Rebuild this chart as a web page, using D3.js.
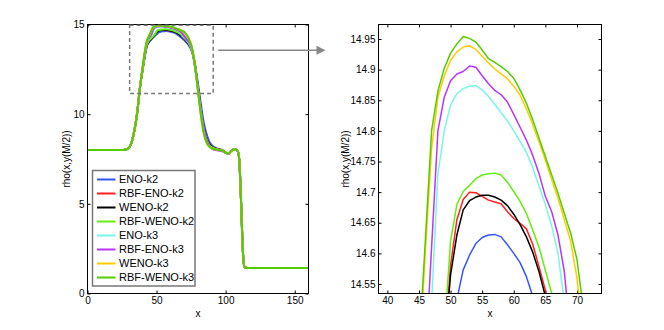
<!DOCTYPE html>
<meta charset="utf-8">
<style>
    body { margin: 0; background: #fff; }
    text { font-family: "Liberation Sans", Arial, Helvetica, sans-serif; fill: #000; }
    .tick text { font-size: 10px; }
    .tick line { stroke: #000; }
    .frame { fill: none; stroke: #000; stroke-width: 1px; }
    .alabel { font-size: 10px; }
    .legend text { font-size: 11px; }
</style>
<body>
<script src="https://d3js.org/d3.v7.min.js"></script>
<script>
    // ---- data ----
    var names = ["ENO-k2", "RBF-ENO-k2", "WENO-k2", "RBF-WENO-k2",
                 "ENO-k3", "RBF-ENO-k3", "WENO-k3", "RBF-WENO-k3"];
    var colors = ["#3355ff", "#ff2020", "#000000", "#66ee11",
                  "#77f7e8", "#bb33ff", "#ffcc00", "#55cc00"];

    // shared left part (all schemes coincide)
    var xRise = [0, 26, 28, 30, 32, 34, 36, 38];
    var rhoRise = [8, 8, 8.03, 8.12, 8.45, 9.1, 10.1, 11.5];

    // region where the schemes differ
    var xCore = [40, 42, 43, 44, 45, 46, 47, 48, 49, 50, 51, 52, 53, 54, 55, 56, 57, 58, 59, 60,
                 61, 62, 63, 64, 65, 66, 67, 68, 69, 70, 71, 72, 74, 76, 78, 80, 82, 84, 86, 88, 90, 94, 98];
    var eno2 = [12.5, 13.45, 13.8, 13.97, 14.08, 14.16, 14.24, 14.32, 14.39, 14.45, 14.525, 14.573, 14.597, 14.616, 14.626, 14.63, 14.631, 14.627, 14.614, 14.6,
                14.585, 14.562, 14.53, 14.49, 14.44, 14.39, 14.33, 14.27, 14.2, 14.13, 14.05, 13.97, 13.75, 13.4, 12.7, 11.7, 10.6, 9.6, 8.95, 8.5, 8.27, 8.08, 7.98];
    var rbfEno2 = [12.55, 13.5, 13.85, 14.02, 14.12, 14.2, 14.28, 14.36, 14.45, 14.58, 14.655, 14.688, 14.7, 14.699, 14.693, 14.687, 14.684, 14.681, 14.668, 14.657,
                   14.649, 14.64, 14.615, 14.578, 14.54, 14.49, 14.43, 14.37, 14.3, 14.22, 14.14, 14.06, 13.85, 13.45, 12.6, 11.45, 10.3, 9.3, 8.7, 8.35, 8.18, 8.05, 7.97];
    var weno2 = [12.55, 13.5, 13.84, 14.0, 14.1, 14.18, 14.26, 14.34, 14.44, 14.565, 14.63, 14.671, 14.686, 14.692, 14.695, 14.695, 14.692, 14.687, 14.678, 14.664,
                 14.647, 14.627, 14.602, 14.57, 14.53, 14.48, 14.42, 14.36, 14.29, 14.21, 14.13, 14.05, 13.84, 13.45, 12.6, 11.45, 10.3, 9.3, 8.7, 8.35, 8.18, 8.05, 7.97];
    var rbfWeno2 = [12.57, 13.53, 13.88, 14.05, 14.15, 14.22, 14.3, 14.38, 14.47, 14.62, 14.68, 14.701, 14.711, 14.722, 14.728, 14.73, 14.731, 14.728, 14.716, 14.701,
                    14.685, 14.665, 14.638, 14.61, 14.572, 14.535, 14.48, 14.41, 14.33, 14.25, 14.17, 14.09, 13.87, 13.47, 12.6, 11.4, 10.25, 9.25, 8.65, 8.3, 8.15, 8.04, 7.96];
    var eno3 = [12.6, 13.6, 13.95, 14.12, 14.25, 14.38, 14.52, 14.73, 14.8, 14.842, 14.861, 14.869, 14.873, 14.874, 14.867, 14.856, 14.843, 14.83, 14.816, 14.8,
                14.783, 14.765, 14.74, 14.71, 14.68, 14.645, 14.6, 14.52, 14.42, 14.32, 14.22, 14.12, 13.9, 13.45, 12.55, 11.35, 10.15, 9.15, 8.55, 8.25, 8.12, 8.02, 7.95];
    var rbfEno3 = [12.62, 13.65, 14.0, 14.18, 14.3, 14.42, 14.61, 14.8, 14.855, 14.882, 14.893, 14.897, 14.906, 14.904, 14.89, 14.877, 14.866, 14.859, 14.847, 14.827,
                   14.806, 14.785, 14.76, 14.73, 14.693, 14.668, 14.63, 14.57, 14.46, 14.36, 14.26, 14.16, 13.95, 13.5, 12.6, 11.4, 10.2, 9.2, 8.6, 8.25, 8.08, 7.98, 7.92];
    var weno3 = [12.65, 13.7, 14.07, 14.27, 14.42, 14.6, 14.77, 14.855, 14.89, 14.915, 14.929, 14.937, 14.939, 14.933, 14.922, 14.911, 14.901, 14.893, 14.885, 14.873,
                 14.858, 14.836, 14.81, 14.782, 14.752, 14.72, 14.69, 14.655, 14.62, 14.56, 14.46, 14.36, 14.08, 13.58, 12.6, 11.3, 10.0, 9.0, 8.45, 8.2, 8.1, 8.02, 7.95];
    var rbfWeno3 = [12.67, 13.73, 14.1, 14.29, 14.44, 14.62, 14.8, 14.865, 14.902, 14.927, 14.942, 14.954, 14.951, 14.945, 14.932, 14.918, 14.912, 14.905, 14.897, 14.886,
                    14.867, 14.845, 14.818, 14.788, 14.758, 14.728, 14.698, 14.665, 14.633, 14.59, 14.51, 14.4, 14.1, 13.6, 12.6, 11.3, 10.0, 9.0, 8.45, 8.2, 8.1, 8.02, 7.95];

    // shared right part
    var xTail = [100, 102, 104, 106, 107, 108, 109, 110, 111, 112, 113, 114, 116, 160];
    var rhoTail = [7.85, 7.8, 7.95, 8.05, 8.05, 7.98, 7.9, 7.3, 5.5, 3.3, 1.75, 1.45, 1.42, 1.42];

    var cores = [eno2, rbfEno2, weno2, rbfWeno2, eno3, rbfEno3, weno3, rbfWeno3];

    var leftXTicks = [0, 50, 100, 150];
    var leftYTicks = [0, 5, 10, 15];
    var rightXTicks = [40, 45, 50, 55, 60, 65, 70];
    var rightYTicks = [14.55, 14.6, 14.65, 14.7, 14.75, 14.8, 14.85, 14.9, 14.95];

    // zoom window drawn on the left axes (data units)
    var zoomBox = { x0: 30.5, x1: 91, y0: 11.15, y1: 14.96 };
    var arrowY = 13.57;

    var xs = xRise.concat(xCore, xTail);
    var series = cores.map(function (c, i) {
        var ys = rhoRise.concat(c, rhoTail);
        return { name: names[i], color: colors[i], values: xs.map(function (x, j) { return [x, ys[j]]; }) };
    });

    // ---- layout ----
    var W = 664, H = 330;
    var svg = d3.select("body").append("svg")
        .attr("width", W).attr("height", H);

    var xL = d3.scaleLinear().domain([0, 160]).range([87.5, 308.5]);
    var yL = d3.scaleLinear().domain([0, 15]).range([293.5, 24.5]);
    var xR = d3.scaleLinear().domain([38.6, 73.88]).range([378.5, 601.5]);
    var yR = d3.scaleLinear().domain([14.5345, 14.9737]).range([293.5, 24.5]);

    function drawAxes(g, x, y, xt, yt, id, labelOff) {
        var x0 = x.range()[0], x1 = x.range()[1], y0 = y.range()[0], y1 = y.range()[1];

        g.append("clipPath").attr("id", id)
            .append("rect").attr("x", x0).attr("y", y1).attr("width", x1 - x0).attr("height", y0 - y1);

        g.append("g").attr("transform", "translate(0," + y0 + ")")
            .call(d3.axisBottom(x).tickValues(xt).tickSize(-3).tickPadding(3.5).tickFormat(d3.format("")))
            .call(function (a) { a.select(".domain").remove(); });
        g.append("g").attr("transform", "translate(0," + y1 + ")")
            .call(d3.axisTop(x).tickValues(xt).tickSize(-3).tickFormat(""))
            .call(function (a) { a.select(".domain").remove(); });
        g.append("g").attr("transform", "translate(" + x0 + ",0)")
            .call(d3.axisLeft(y).tickValues(yt).tickSize(-3).tickPadding(3).tickFormat(d3.format("")))
            .call(function (a) { a.select(".domain").remove(); });
        g.append("g").attr("transform", "translate(" + x1 + ",0)")
            .call(d3.axisRight(y).tickValues(yt).tickSize(-3).tickFormat(""))
            .call(function (a) { a.select(".domain").remove(); });

        g.selectAll(".tick text").attr("font-family", null).attr("font-size", null);

        g.append("text").attr("class", "alabel")
            .attr("x", (x0 + x1) / 2).attr("y", 316.5)
            .attr("text-anchor", "middle").text("x");
        g.append("text").attr("class", "alabel")
            .attr("transform", "translate(" + (x0 - labelOff) + "," + ((y0 + y1) / 2) + ") rotate(-90)")
            .attr("text-anchor", "middle").text("rho(x,y(M/2))");
    }

    function drawLines(g, x, y, id, w, curve) {
        var line = d3.line().curve(curve)
            .x(function (d) { return x(d[0]); }).y(function (d) { return y(d[1]); });
        g.append("g").attr("clip-path", "url(#" + id + ")")
            .selectAll("path").data(series).enter().append("path")
            .attr("d", function (d) { return line(d.values); })
            .attr("fill", "none")
            .attr("stroke", function (d) { return d.color; })
            .attr("stroke-width", w)
            .attr("stroke-linejoin", "round");
    }

    function frame(g, x, y) {
        g.append("rect").attr("class", "frame")
            .attr("x", x.range()[0]).attr("y", y.range()[1])
            .attr("width", x.range()[1] - x.range()[0])
            .attr("height", y.range()[0] - y.range()[1]);
    }

    // left panel
    var gl = svg.append("g");
    drawAxes(gl, xL, yL, leftXTicks, leftYTicks, "clipL", 18);
    drawLines(gl, xL, yL, "clipL", 2, d3.curveMonotoneX);
    frame(gl, xL, yL);

    // zoom window + arrow
    gl.append("rect")
        .attr("x", xL(zoomBox.x0)).attr("y", yL(zoomBox.y1))
        .attr("width", xL(zoomBox.x1) - xL(zoomBox.x0))
        .attr("height", yL(zoomBox.y0) - yL(zoomBox.y1))
        .attr("fill", "none").attr("stroke", "#7a7a7a")
        .attr("stroke-width", 1.5).attr("stroke-dasharray", "4,3");

    var ax0 = xL(zoomBox.x1) + 5, ax1 = xR.range()[0] - 53, ay = yL(arrowY);
    gl.append("line")
        .attr("x1", ax0).attr("y1", ay).attr("x2", ax1 - 4).attr("y2", ay)
        .attr("stroke", "#888").attr("stroke-width", 1.5);
    gl.append("path")
        .attr("d", "M" + (ax1 - 9) + "," + (ay - 4.5) + "L" + ax1 + "," + ay + "L" + (ax1 - 9) + "," + (ay + 4.5) + "Z")
        .attr("fill", "#888");

    // legend
    var lx = xL.range()[0] + 5, ly = 170.5, lw = 102.5, lh = 115.5, rowH = 14;
    var leg = gl.append("g").attr("class", "legend");
    leg.append("rect")
        .attr("x", lx).attr("y", ly).attr("width", lw).attr("height", lh)
        .attr("fill", "#fff").attr("stroke", "#777").attr("stroke-width", 1.5);
    var item = leg.selectAll("g.item").data(series).enter().append("g")
        .attr("class", "item")
        .attr("transform", function (d, i) { return "translate(" + lx + "," + (ly + 9 + i * rowH) + ")"; });
    item.append("line")
        .attr("x1", 4.5).attr("x2", 23).attr("y1", 0).attr("y2", 0)
        .attr("stroke", function (d) { return d.color; }).attr("stroke-width", 2);
    item.append("text")
        .attr("x", 26.5).attr("y", 0).attr("dy", "0.36em")
        .text(function (d) { return d.name; });

    // right panel
    var gr = svg.append("g");
    drawAxes(gr, xR, yR, rightXTicks, rightYTicks, "clipR", 30);
    drawLines(gr, xR, yR, "clipR", 1.5, d3.curveLinear);
    frame(gr, xR, yR);
</script>
</body>
